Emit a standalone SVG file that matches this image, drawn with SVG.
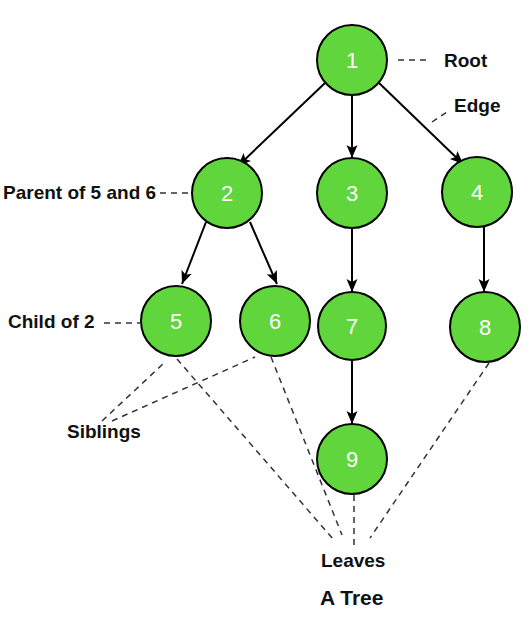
<svg xmlns="http://www.w3.org/2000/svg" width="532" height="619" viewBox="0 0 532 619">
<style>
.node circle{fill:#60D53C;stroke:#000;stroke-width:2}
.node text{font-family:"Liberation Sans",Arial,sans-serif;font-size:22px;fill:#fff;text-anchor:middle}
.edge{stroke:#000;stroke-width:2;fill:none;marker-end:url(#arr)}
.dash{stroke:#333;stroke-width:1.5;stroke-dasharray:6 5;fill:none}
.lbl{font-family:"Liberation Sans",Arial,sans-serif;font-size:19px;font-weight:bold;fill:#111}
</style>
<defs>
<marker id="arr" markerUnits="userSpaceOnUse" markerWidth="14" markerHeight="12" refX="13" refY="5.5" orient="auto">
<path d="M0,0 L13,5.5 L0,11 L3,5.5 z" fill="#000"/>
</marker>
</defs>
<rect width="532" height="619" fill="#fff"/>
<g id="connectors">
<line class="edge" x1="325" y1="83" x2="238" y2="166"/>
<line class="edge" x1="352" y1="95" x2="352" y2="158"/>
<line class="edge" x1="378" y1="82" x2="463" y2="164"/>
<line class="edge" x1="206" y1="222" x2="182" y2="284"/>
<line class="edge" x1="250" y1="222" x2="277" y2="284"/>
<line class="edge" x1="352" y1="228" x2="352" y2="292"/>
<line class="edge" x1="352" y1="361" x2="352" y2="424"/>
<line class="edge" x1="484" y1="227" x2="484" y2="292"/>
<line class="dash" x1="398" y1="60" x2="430" y2="60"/>
<line class="dash" x1="432" y1="122" x2="450" y2="110"/>
<line class="dash" x1="160" y1="193" x2="192" y2="193"/>
<line class="dash" x1="104" y1="323" x2="140" y2="323"/>
<line class="dash" x1="102" y1="421" x2="164" y2="363"/>
<line class="dash" x1="112" y1="421" x2="255" y2="357"/>
<line class="dash" x1="177" y1="359" x2="333" y2="539"/>
<line class="dash" x1="271" y1="357" x2="342" y2="535"/>
<line class="dash" x1="354" y1="495" x2="354" y2="545"/>
<line class="dash" x1="489" y1="363" x2="370" y2="538"/>
</g>
<g id="n1" class="node"><circle cx="352" cy="60" r="35"/><text x="352" y="68">1</text></g>
<g id="n2" class="node"><circle cx="227" cy="193" r="35"/><text x="227" y="201">2</text></g>
<g id="n3" class="node"><circle cx="352" cy="193" r="35"/><text x="352" y="201">3</text></g>
<g id="n4" class="node"><circle cx="477" cy="192" r="35"/><text x="477" y="200">4</text></g>
<g id="n5" class="node"><circle cx="176" cy="321" r="35"/><text x="176" y="329">5</text></g>
<g id="n6" class="node"><circle cx="275" cy="321" r="35"/><text x="275" y="329">6</text></g>
<g id="n7" class="node"><circle cx="352" cy="326" r="34"/><text x="352" y="334">7</text></g>
<g id="n8" class="node"><circle cx="485" cy="327" r="35"/><text x="485" y="335">8</text></g>
<g id="n9" class="node"><circle cx="352" cy="459" r="35"/><text x="352" y="467">9</text></g>
<g id="labels">
<text class="lbl" x="444" y="67">Root</text>
<text class="lbl" x="454" y="112">Edge</text>
<text class="lbl" x="3" y="199">Parent of 5 and 6</text>
<text class="lbl" x="8" y="328">Child of 2</text>
<text class="lbl" x="67" y="438">Siblings</text>
<text class="lbl" x="321" y="567">Leaves</text>
<text class="lbl" x="320" y="605" style="font-size:21px">A Tree</text>
</g>
</svg>
